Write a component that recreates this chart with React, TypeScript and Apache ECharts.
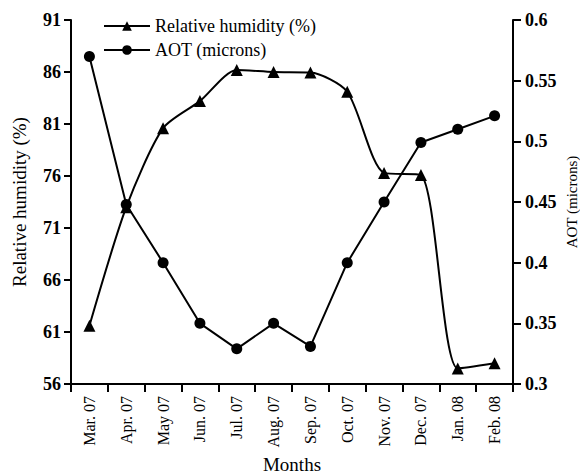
import React, { useEffect, useRef } from "react";
import * as echarts from "echarts";

const months = ["Mar. 07", "Apr. 07", "May 07", "Jun. 07", "Jul. 07", "Aug. 07", "Sep. 07", "Oct. 07", "Nov. 07", "Dec. 07", "Jan. 08", "Feb. 08"];
const humidity = [61.6, 73.0, 80.6, 83.2, 86.2, 86.0, 85.95, 84.1, 76.3, 76.1, 57.5, 58.0];
const aot = [0.570, 0.448, 0.400, 0.350, 0.329, 0.350, 0.331, 0.400, 0.450, 0.499, 0.510, 0.521];

const FONT = "'Liberation Serif', 'Times New Roman', serif";

export default function App() {
  const ref = useRef<HTMLDivElement>(null);
  useEffect(() => {
    if (!ref.current) return;
    const chart = echarts.init(ref.current, null, { renderer: "svg" });
    const yText = { color: "#000", fontFamily: FONT, fontSize: 18, fontWeight: "bold" as const };
    chart.setOption({
      animation: false,
      backgroundColor: "#fff",
      grid: { left: 71, right: 67, top: 20, bottom: 90, containLabel: false, outerBoundsMode: "none" },
      legend: {
        left: 98,
        top: 12,
        orient: "vertical",
        itemWidth: 46,
        itemHeight: 12,
        itemGap: 6,
        textStyle: { color: "#000", fontFamily: FONT, fontSize: 18 },
        data: ["Relative humidity (%)", "AOT (microns)"],
      },
      xAxis: {
        type: "category",
        data: months,
        boundaryGap: true,
        name: "Months",
        nameLocation: "middle",
        nameGap: 71,
        nameMoveOverlap: false,
        nameTextStyle: { color: "#000", fontFamily: FONT, fontSize: 19 },
        axisLine: { lineStyle: { color: "#000", width: 2 } },
        axisTick: { show: true, alignWithLabel: false, length: 8, lineStyle: { color: "#000", width: 2 } },
        axisLabel: { color: "#000", fontFamily: FONT, fontSize: 16, rotate: 90, margin: 12, interval: 0 },
        splitLine: { show: false },
      },
      yAxis: [
        {
          type: "value",
          min: 56,
          max: 91,
          interval: 5,
          name: "Relative humidity (%)",
          nameLocation: "middle",
          nameGap: 42,
          nameRotate: 90,
          nameMoveOverlap: false,
          nameTextStyle: { color: "#000", fontFamily: FONT, fontSize: 19 },
          axisLine: { show: true, lineStyle: { color: "#000", width: 2 } },
          axisTick: { show: true, length: 7, lineStyle: { color: "#000", width: 2 } },
          axisLabel: { ...yText, margin: 10 },
          splitLine: { show: false },
        },
        {
          type: "value",
          min: 0.3,
          max: 0.6,
          interval: 0.05,
          name: "AOT (microns)",
          nameLocation: "middle",
          nameGap: 51,
          nameRotate: 90,
          nameMoveOverlap: false,
          nameTextStyle: { color: "#000", fontFamily: FONT, fontSize: 15 },
          axisLine: { show: true, lineStyle: { color: "#000", width: 2 } },
          axisTick: { show: true, length: 8, lineStyle: { color: "#000", width: 2 } },
          axisLabel: {
            ...yText,
            margin: 12,
            formatter: (v: number) => String(parseFloat(v.toFixed(2))),
          },
          splitLine: { show: false },
        },
      ],
      series: [
        {
          name: "Relative humidity (%)",
          type: "line",
          yAxisIndex: 0,
          data: humidity,
          smooth: 0.25,
          symbol: "triangle",
          symbolSize: 12,
          itemStyle: { color: "#000" },
          lineStyle: { color: "#000", width: 2 },
        },
        {
          name: "AOT (microns)",
          type: "line",
          yAxisIndex: 1,
          data: aot,
          symbol: "circle",
          symbolSize: 11,
          itemStyle: { color: "#000" },
          lineStyle: { color: "#000", width: 2 },
        },
      ],
    });
    return () => chart.dispose();
  }, []);
  return <div ref={ref} style={{ width: 580, height: 474, position: "absolute", left: 0, top: 0 }} />;
}
